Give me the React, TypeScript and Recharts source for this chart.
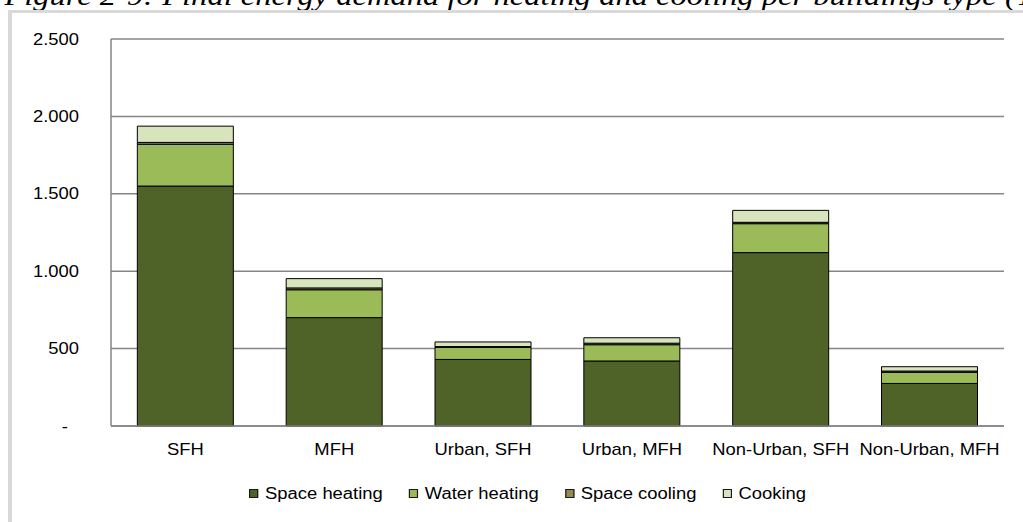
import React from "react";
import {
  BarChart,
  Bar,
  XAxis,
  YAxis,
  CartesianGrid,
} from "recharts";

// ─── Data (GWh-ish units) ────────────────────────────────────────────────────

const categories = [
  "SFH",
  "MFH",
  "Urban, SFH",
  "Urban, MFH",
  "Non-Urban, SFH",
  "Non-Urban, MFH",
];

const spaceHeating = [1550, 700, 430, 420, 1120, 275];
const waterHeating = [270, 180, 78, 105, 187, 72];
const spaceCooling = [12, 12, 5, 10, 9, 8];
const cooking = [105, 60, 30, 35, 77, 28];

const yTicks = [0, 500, 1000, 1500, 2000, 2500];

const seriesKeys = ["spaceHeating", "waterHeating", "spaceCooling", "cooking"];
const seriesLabels = ["Space heating", "Water heating", "Space cooling", "Cooking"];
const seriesColors = ["#4F6228", "#9BBB59", "#948A54", "#D7E4BC"];

const captionText =
  "Figure 2-9: Final energy demand for heating and cooling per buildings type (T";

// ─── Helpers ─────────────────────────────────────────────────────────────────

const FONT = "'Liberation Sans', Arial, sans-serif";
const STRETCH = 1.15; // the source picture is stretched horizontally
const GRID = "#868686";

function formatThousands(v: number) {
  if (v === 0) return "-";
  return String(v).replace(/\B(?=(\d{3})+(?!\d))/g, ".");
}

function YTick({ x, y, payload }: any) {
  const v = payload.value as number;
  // Excel accounting format pads the dash to the left
  const dx = v === 0 ? -11 : 0;
  return (
    <g transform={`translate(${x + dx},${y}) scale(${STRETCH},1)`}>
      <text
        textAnchor="end"
        dy="0.355em"
        fontSize={16}
        fontFamily={FONT}
        fill="#000"
      >
        {formatThousands(v)}
      </text>
    </g>
  );
}

function XTick({ x, y, payload }: any) {
  return (
    <g transform={`translate(${x},${y}) scale(${STRETCH},1)`}>
      <text
        textAnchor="middle"
        dy="0.71em"
        fontSize={16}
        fontFamily={FONT}
        fill="#000"
      >
        {payload.value}
      </text>
    </g>
  );
}

function LegendRow() {
  return (
    <div
      style={{
        position: "absolute",
        left: 249,
        top: 485.5,
        display: "flex",
        alignItems: "center",
        transform: `scaleX(${STRETCH})`,
        transformOrigin: "left top",
        fontFamily: FONT,
        fontSize: 16,
        lineHeight: "16px",
        color: "#000",
        whiteSpace: "nowrap",
      }}
    >
      {seriesLabels.map((label, i) => (
        <div
          key={label}
          style={{
            display: "flex",
            alignItems: "center",
            marginRight: i < seriesLabels.length - 1 ? 22.6 : 0,
          }}
        >
          <span
            style={{
              width: 8,
              height: 9,
              boxSizing: "border-box",
              border: "1px solid #1a1a1a",
              background: seriesColors[i],
              marginRight: 6,
              display: "inline-block",
            }}
          />
          <span>{label}</span>
        </div>
      ))}
    </div>
  );
}

// ─── Component ───────────────────────────────────────────────────────────────

export default function App() {
  const data = categories.map((name, i) => ({
    name,
    spaceHeating: spaceHeating[i],
    waterHeating: waterHeating[i],
    spaceCooling: spaceCooling[i],
    cooking: cooking[i],
  }));

  return (
    <div
      style={{
        position: "absolute",
        left: 0,
        top: 0,
        width: 1023,
        height: 522,
        overflow: "hidden",
        background: "#fff",
      }}
    >
      {/* Clipped figure caption above the chart frame */}
      <svg
        width={1023}
        height={12}
        style={{ position: "absolute", left: 0, top: 0 }}
      >
        <g transform={`translate(4.4,5) scale(${STRETCH},1)`}>
          <text
            fontFamily="'Liberation Serif', 'Times New Roman', serif"
            fontStyle="italic"
            fontSize={28.3}
            fill="#000"
          >
            {captionText}
          </text>
        </g>
      </svg>

      {/* Chart area frame */}
      <div
        style={{
          position: "absolute",
          left: 8,
          top: 10,
          width: 1100,
          height: 600,
          borderLeft: "4px solid #D9D9D9",
          borderTop: "3px solid #D9D9D9",
        }}
      />

      <div style={{ position: "absolute", left: 0, top: 0 }}>
        <BarChart
          width={1023}
          height={522}
          data={data}
          margin={{ top: 39, right: 19, bottom: 66, left: 0 }}
          barCategoryGap="17.7%"
        >
          <CartesianGrid
            vertical={false}
            stroke={GRID}
            strokeWidth={1.5}
          />
          <XAxis
            dataKey="name"
            height={30}
            axisLine={{ stroke: GRID, strokeWidth: 1.5 }}
            tickLine={false}
            tickMargin={12}
            interval={0}
            tick={<XTick />}
          />
          <YAxis
            width={111}
            domain={[0, 2500]}
            ticks={yTicks}
            axisLine={{ stroke: GRID, strokeWidth: 1.5 }}
            tickLine={false}
            tickMargin={26}
            tick={<YTick />}
          />
          {seriesKeys.map((key, i) => (
            <Bar
              key={key}
              dataKey={key}
              name={seriesLabels[i]}
              stackId="a"
              fill={seriesColors[i]}
              stroke="#000"
              strokeWidth={1}
              isAnimationActive={false}
            />
          ))}
        </BarChart>
      </div>

      <LegendRow />
    </div>
  );
}
